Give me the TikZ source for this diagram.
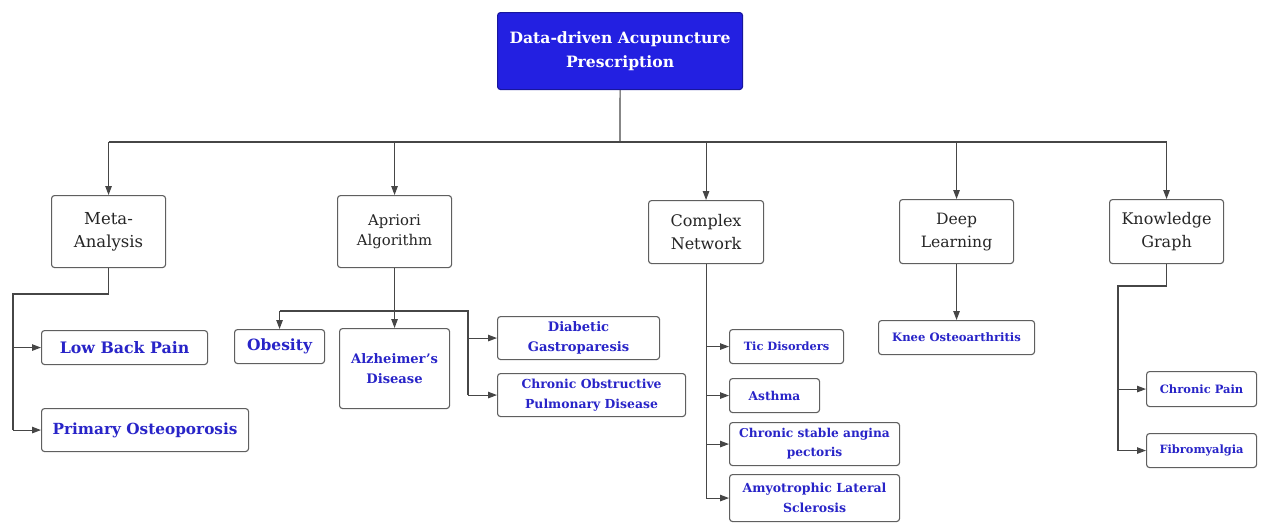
\documentclass[tikz,border=0pt]{standalone}
\usepackage{fontspec}
\setmainfont{DejaVu Serif}
\usetikzlibrary{arrows.meta}
\definecolor{mainblue}{RGB}{35,32,225}
\definecolor{txtblue}{RGB}{40,36,200}
\definecolor{edge}{RGB}{70,70,70}
\definecolor{bord}{RGB}{95,95,95}
\newcommand{\fs}[2]{\fontsize{#1}{#2}\selectfont}
\tikzset{
  box/.style={draw=bord, line width=1.1pt, rounded corners=3pt, fill=white, inner sep=0pt, align=center, anchor=north west},
  topbox/.style={box, fill=mainblue, draw=mainblue!70!black, text=white},
  catbox/.style={box, text=black!85},
  leafbox/.style={box, text=txtblue},
  conn/.style={draw=edge, line width=1.1pt},
  arr/.style={conn, -{Triangle[length=9pt,width=6.5pt]}},
}
\begin{document}
\begin{tikzpicture}[x=1pt,y=-1pt]
\useasboundingbox (0,0) rectangle (1261,523);
% top
\node[topbox, minimum width=245pt, minimum height=77pt, font=\bfseries\fs{15.6}{24}] (top) at (497,12) {Data-driven Acupuncture\\Prescription};
% categories
\node[catbox, minimum width=114pt, minimum height=72pt, font=\fs{16.5}{23}] (meta) at (51,195) {Meta-\\Analysis};
\node[catbox, minimum width=114pt, minimum height=72pt, font=\fs{14.8}{20}] (apr) at (337,195) {Apriori\\Algorithm};
\node[catbox, minimum width=115pt, minimum height=63pt, font=\fs{16}{23}] (cn) at (648,200) {Complex\\Network};
\node[catbox, minimum width=114pt, minimum height=64pt, font=\fs{15.6}{23}] (dl) at (899,199) {Deep\\Learning};
\node[catbox, minimum width=114pt, minimum height=64pt, font=\fs{16}{23}] (kg) at (1109,199) {Knowledge\\Graph};
% meta leaves
\node[leafbox, minimum width=166pt, minimum height=34pt, font=\bfseries\fs{15.8}{20}] (lbp) at (41,330) {Low Back Pain};
\node[leafbox, minimum width=207pt, minimum height=43pt, font=\bfseries\fs{15.3}{20}] (po) at (41,408) {Primary Osteoporosis};
% apriori leaves
\node[leafbox, minimum width=90pt, minimum height=34pt, font=\bfseries\fs{15.5}{20}] (obe) at (234,329) {Obesity};
\node[leafbox, minimum width=110pt, minimum height=80pt, font=\bfseries\fs{13.1}{20}] (alz) at (339,328) {Alzheimer's\\Disease};
\node[leafbox, minimum width=162pt, minimum height=43pt, font=\bfseries\fs{13.1}{20}] (dg) at (497,316) {Diabetic\\Gastroparesis};
\node[leafbox, minimum width=188pt, minimum height=43pt, font=\bfseries\fs{12.4}{20}] (copd) at (497,373) {Chronic Obstructive\\Pulmonary Disease};
% complex network leaves
\node[leafbox, minimum width=114pt, minimum height=34pt, font=\bfseries\fs{11.4}{16}] (tic) at (729,329) {Tic Disorders};
\node[leafbox, minimum width=90pt, minimum height=34pt, font=\bfseries\fs{12.2}{16}] (ast) at (729,378) {Asthma};
\node[leafbox, minimum width=170pt, minimum height=43pt, font=\bfseries\fs{12.2}{19}] (csap) at (729,422) {Chronic stable angina\\pectoris};
\node[leafbox, minimum width=170pt, minimum height=47pt, font=\bfseries\fs{12.5}{20}] (als) at (729,474) {Amyotrophic Lateral\\Sclerosis};
% deep learning leaf
\node[leafbox, minimum width=156pt, minimum height=34pt, font=\bfseries\fs{11.6}{16}] (knee) at (878,320) {Knee Osteoarthritis};
% knowledge graph leaves
\node[leafbox, minimum width=110pt, minimum height=35pt, font=\bfseries\fs{11.5}{16}] (cp) at (1146,371) {Chronic Pain};
\node[leafbox, minimum width=110pt, minimum height=34pt, font=\bfseries\fs{11.4}{16}] (fib) at (1146,433) {Fibromyalgia};
% hub
\coordinate (hub) at (620,142);
\draw[conn] (top.south) -- (hub);
\draw[conn] (meta.north |- hub) -- (kg.north |- hub);
\draw[arr] (meta.north |- hub) -- (meta.north);
\draw[arr] (apr.north |- hub) -- (apr.north);
\draw[arr] (cn.north |- hub) -- (cn.north);
\draw[arr] (dl.north |- hub) -- (dl.north);
\draw[arr] (kg.north |- hub) -- (kg.north);
% meta
\coordinate (mj) at (13,294);
\draw[conn] (meta.south) |- (mj) -- (mj |- po.west);
\draw[arr] (mj |- lbp.west) -- (lbp.west);
\draw[arr] (mj |- po.west) -- (po.west);
% apriori
\coordinate (aj) at (394,311);
\coordinate (ar) at (468,311);
\draw[arr] (apr.south) -- (alz.north);
\draw[conn] (obe.north |- aj) -- (ar) -- (ar |- copd.west);
\draw[arr] (obe.north |- aj) -- (obe.north);
\draw[arr] (ar |- dg.west) -- (dg.west);
\draw[arr] (ar |- copd.west) -- (copd.west);
% complex network
\draw[conn] (cn.south) -- (cn.south |- als.west);
\draw[arr] (cn.south |- tic.west) -- (tic.west);
\draw[arr] (cn.south |- ast.west) -- (ast.west);
\draw[arr] (cn.south |- csap.west) -- (csap.west);
\draw[arr] (cn.south |- als.west) -- (als.west);
% deep learning
\draw[arr] (dl.south) -- (knee.north);
% knowledge graph
\coordinate (kj) at (1118,286);
\draw[conn] (kg.south) |- (kj) -- (kj |- fib.west);
\draw[arr] (kj |- cp.west) -- (cp.west);
\draw[arr] (kj |- fib.west) -- (fib.west);
\end{tikzpicture}
\end{document}
